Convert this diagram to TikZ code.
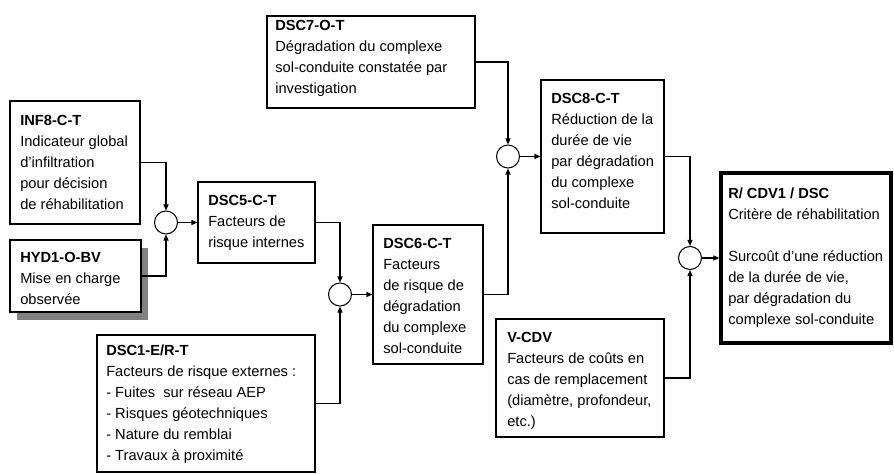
\documentclass[tikz,border=0pt]{standalone}
\usepackage{fontspec}
\setmainfont{Liberation Sans}
\usetikzlibrary{arrows.meta,fit}
\definecolor{shadowgray}{RGB}{128,128,128}
\begin{document}
\begin{tikzpicture}[x=0.75pt,y=-0.75pt,
  box/.style={draw, line width=0.8pt, fill=white, inner sep=0pt},
  keybox/.style={draw, line width=2.5pt, fill=white, inner sep=0pt},
  txt/.style={anchor=north west, inner sep=0pt, align=left, font=\fontsize{11}{15.75}\selectfont},
  sum/.style={draw, circle, line width=0.8pt, minimum size=17.25pt, inner sep=0pt},
  conn/.style={line width=0.8pt, -{Triangle[length=4.5pt,width=3.8pt]}}]
\useasboundingbox (0,0) rectangle (894,474);

% shadow under the observed-load box
\fill[shadowgray] (17,248) rectangle (148,320);

% boxes
\node[box, fit={(10,101) (140,224)}] (inf8) {};
\node[box, fit={(10,240) (141,312)}] (hyd1) {};
\node[box, fit={(198,182) (315,263)}] (dsc5) {};
\node[box, fit={(97,335) (315,472)}] (dsc1) {};
\node[box, fit={(373,225) (483,364)}] (dsc6) {};
\node[box, fit={(267,16) (475,108)}] (dsc7) {};
\node[box, fit={(541,80) (664,233)}] (dsc8) {};
\node[box, fit={(496,319) (664,437)}] (vcdv) {};
\node[keybox, fit={(721,173) (891,343)}] (rcdv) {};

% box texts
\node[txt] (inf8t) at (20,115) {\textbf{INF8-C-T}\\Indicateur global\\d’infiltration\\pour décision\\de réhabilitation};
\node[txt] (hyd1t) at (20,252) {\textbf{HYD1-O-BV}\\Mise en charge\\observée};
\node[txt] (dsc5t) at (208,195) {\textbf{DSC5-C-T}\\Facteurs de\\risque internes};
\node[txt] (dsc1t) at (106,345) {\textbf{DSC1-E/R-T}\\Facteurs de risque externes :\\- Fuites\ \ sur réseau AEP\\- Risques géotechniques\\- Nature du remblai\\- Travaux à proximité};
\node[txt] (dsc6t) at (383,238) {\textbf{DSC6-C-T}\\Facteurs\\de risque de\\dégradation\\du complexe\\sol-conduite};
\node[txt] (dsc7t) at (275,20) {\textbf{DSC7-O-T}\\Dégradation du complexe\\sol-conduite constatée par\\investigation};
\node[txt] (dsc8t) at (551,93) {\textbf{DSC8-C-T}\\Réduction de la\\durée de vie\\par dégradation\\du complexe\\sol-conduite};
\node[txt] (vcdvt) at (507,332) {\textbf{V-CDV}\\Facteurs de coûts en\\cas de remplacement\\(diamètre, profondeur,\\etc.)};
\node[txt] (rcdvt) at (728,188) {\textbf{R/ CDV1 / DSC}\\Critère de réhabilitation\\[15.75pt]Surcoût d’une réduction\\de la durée de vie,\\par dégradation du\\complexe sol-conduite};

% combination points
\node[sum] (c1) at (166,222.5) {};
\node[sum] (c2) at (340,294.5) {};
\node[sum] (c3) at (508,156.5) {};
\node[sum] (c4) at (690,258) {};

% connectors
\draw[conn] (inf8.east) -| (c1.north);
\draw[conn] (hyd1.east) -| (c1.south);
\draw[conn] (c1.east) -- (dsc5.west);
\draw[conn] (dsc5.east) -| (c2.north);
\draw[conn] (dsc1.east) -| (c2.south);
\draw[conn] (c2.east) -- (dsc6.west);
\draw[conn] (dsc7.east) -| (c3.north);
\draw[conn] (dsc6.east) -| (c3.south);
\draw[conn] (c3.east) -- (dsc8.west);
\draw[conn] (dsc8.east) -| (c4.north);
\draw[conn] (vcdv.east) -| (c4.south);
\draw[conn] (c4.east) -- (rcdv.west);
\end{tikzpicture}
\end{document}
